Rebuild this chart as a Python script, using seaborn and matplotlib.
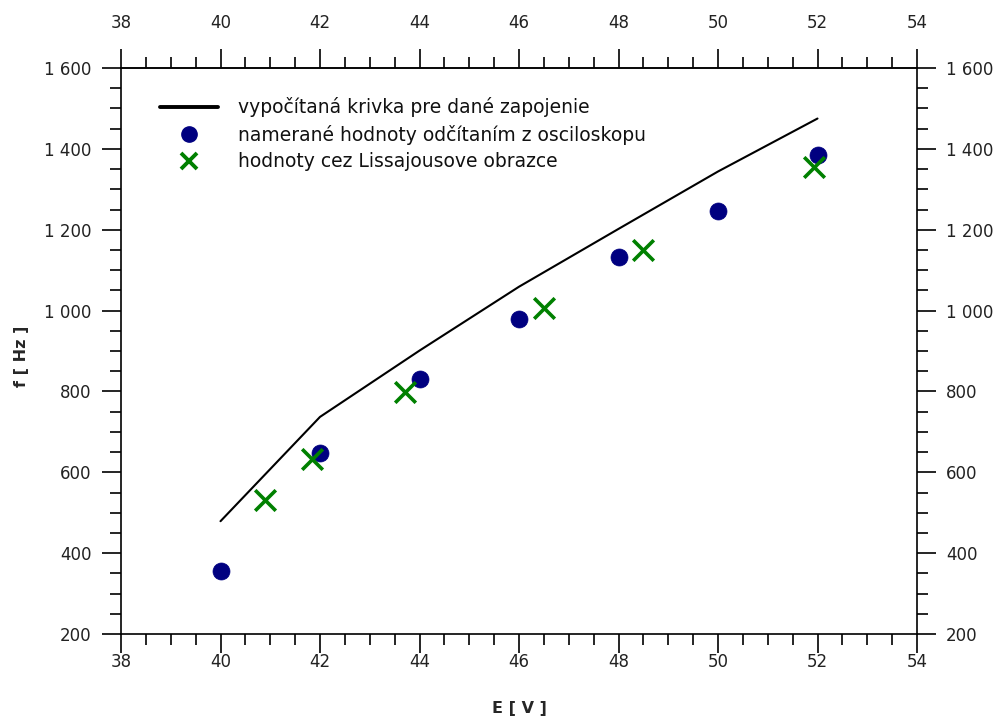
import matplotlib
matplotlib.use("Agg")
import matplotlib.pyplot as plt
from matplotlib.ticker import MultipleLocator, FixedLocator, FixedFormatter
from matplotlib.lines import Line2D
import seaborn as sns
import pandas as pd

# Data
calc_E = [40, 42, 44, 46, 48, 50, 52]
calc_f = [479, 737, 901, 1059, 1202, 1344, 1475]

osc_E = [40, 42, 44, 46, 48, 50, 52]
osc_f = [356, 648, 831, 979, 1132, 1246, 1385]

liss_E = [40.9, 41.83, 43.71, 46.5, 48.5, 51.92]
liss_f = [531, 634, 799, 1006, 1150, 1356]

x_ticks = [38, 40, 42, 44, 46, 48, 50, 52, 54]
x_labels = ["38", "40", "42", "44", "46", "48", "50", "52", "54"]
y_ticks = [200, 400, 600, 800, 1000, 1200, 1400, 1600]
y_labels = ["200", "400", "600", "800", "1 000", "1 200", "1 400", "1 600"]

legend_labels = ["vypočítaná krivka pre dané zapojenie",
                 "namerané hodnoty odčítaním z osciloskopu",
                 "hodnoty cez Lissajousove obrazce"]

sns.set_style("white")
plt.rcParams['font.family'] = ['DejaVu Sans']

fig = plt.figure(figsize=(10.01, 7.24), dpi=100)
ax = fig.add_axes([121/1001, 1 - 634/724, (917-121)/1001, (634-68)/724])

df_calc = pd.DataFrame({"E": calc_E, "f": calc_f})
df_osc = pd.DataFrame({"E": osc_E, "f": osc_f})
df_liss = pd.DataFrame({"E": liss_E, "f": liss_f})

sns.lineplot(data=df_calc, x="E", y="f", ax=ax, color="black", linewidth=1.5,
             sort=False, legend=False)
sns.scatterplot(data=df_osc, x="E", y="f", ax=ax, color="#000080", s=150,
                marker="o", edgecolor="#000080", linewidth=0.5, legend=False, zorder=3)
sns.scatterplot(data=df_liss, x="E", y="f", ax=ax, color="#008000", s=220,
                marker="x", linewidth=2.6, legend=False, zorder=4)

ax.set_xlim(38, 54)
ax.set_ylim(200, 1600)

def setup_x(axis):
    axis.set_major_locator(FixedLocator(x_ticks))
    axis.set_major_formatter(FixedFormatter(x_labels))
    axis.set_minor_locator(MultipleLocator(0.5))

setup_x(ax.xaxis)
ax.yaxis.set_major_locator(FixedLocator(y_ticks))
ax.yaxis.set_major_formatter(FixedFormatter(y_labels))
ax.yaxis.set_minor_locator(MultipleLocator(50))

for s in ax.spines.values():
    s.set_visible(True)
    s.set_color("black")
    s.set_linewidth(1.2)

tick_col = "#222222"
ax.tick_params(which="both", direction="out", bottom=True, left=True, right=True,
               top=False, labeltop=False, labelright=True, labelbottom=True,
               labelleft=True, color="black", width=1.2, labelsize=12,
               labelcolor=tick_col)
ax.tick_params(axis="y", which="major", length=14, pad=7)
ax.tick_params(axis="y", which="minor", length=8)
ax.tick_params(axis="x", which="major", length=14, pad=0)
ax.tick_params(axis="x", which="minor", length=8)

# top axis with its own label padding
top = ax.secondary_xaxis("top")
setup_x(top.xaxis)
top.spines["top"].set_linewidth(1.2)
top.tick_params(which="both", direction="out", color="black", width=1.2,
                labelsize=12, labelcolor=tick_col)
top.tick_params(which="major", length=14, pad=12)
top.tick_params(which="minor", length=8)

ax.set_xlabel("E [ V ]", fontsize=11.5, fontweight="bold", labelpad=21)
ax.set_ylabel("f [ Hz ]", fontsize=11.5, fontweight="bold")
ax.yaxis.set_label_coords(-0.116, 0.49)

handles = [
    Line2D([], [], color="black", linewidth=2.8),
    Line2D([], [], color="#000080", marker="o", linestyle="none", markersize=11),
    Line2D([], [], color="#008000", marker="x", linestyle="none", markersize=12,
           markeredgewidth=2.8),
]
ax.legend(handles, legend_labels, loc="upper left", bbox_to_anchor=(0.049, 0.948),
          frameon=False, fontsize=13.5, handlelength=3.1, handletextpad=1.05,
          labelspacing=0.4, borderaxespad=0, borderpad=0, labelcolor="#111111")

fig.savefig("out.png", dpi=100, facecolor="white")
